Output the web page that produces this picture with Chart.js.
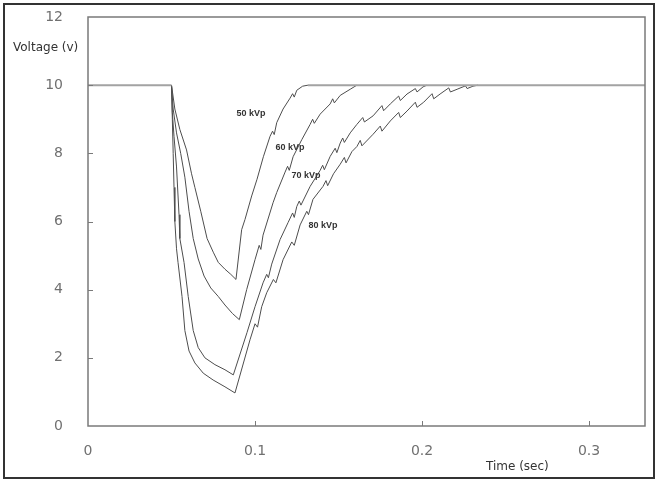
<!DOCTYPE html>
<html>
<head>
<meta charset="utf-8">
<script src="https://cdn.jsdelivr.net/npm/chart.js@4.4.1/dist/chart.umd.min.js"></script>
<style>
html, body { margin: 0; padding: 0; background: #fff; }
#wrap { width: 658px; height: 483px; }
</style>
</head>
<body>
<div id="wrap"><canvas id="c" width="658" height="483"></canvas></div>
<script>
// values (time in s, voltage in V)
const time50 = [0.05,0.052,0.055,0.059,0.062,0.064,0.0675,0.0713,0.075,0.078,0.082,0.0855,
  0.0886,0.092,0.094,0.098,0.1012,0.105,0.109,0.1105,0.1115,0.113,0.1168,0.121,0.1225,0.1235,0.125,0.1285,0.1317];
const volt50 = [10,9.3,8.7,8.1,7.4,7.0,6.3,5.5,5.1,4.8,4.6,4.45,
  4.3,5.76,6.06,6.75,7.24,7.9,8.5,8.65,8.55,8.9,9.3,9.62,9.75,9.65,9.85,9.97,10];

const time60 = [0.05,0.051,0.053,0.0555,0.058,0.0605,0.063,0.066,0.0695,0.0735,0.078,0.082,0.0865,
  0.0906,0.095,0.1,0.1025,0.1035,0.1048,0.1108,0.113,0.118,0.1195,0.1205,0.1228,0.128,0.133,0.1345,0.1355,
  0.139,0.145,0.1465,0.1475,0.151,0.157,0.161];
const volt60 = [10,9.3,8.6,8.0,7.3,6.3,5.5,4.9,4.4,4.05,3.8,3.55,3.3,
  3.12,4.0,4.88,5.3,5.18,5.6,6.55,6.85,7.45,7.62,7.5,7.9,8.4,8.85,9.0,8.88,
  9.15,9.45,9.6,9.48,9.7,9.88,10];

const time70 = [0.05,0.0505,0.0515,0.053,0.0545,0.055,0.0575,0.06,0.063,0.066,0.07,0.076,0.082,
  0.087,0.0952,0.1,0.1048,0.107,0.108,0.11,0.115,0.1198,0.1225,0.1235,0.125,0.1265,0.1275,0.133,0.139,
  0.1405,0.1415,0.145,0.148,0.149,0.151,0.1525,0.1535,0.157,0.161,0.1645,0.1655,0.1707,0.176,0.177,
  0.181,0.186,0.187,0.191,0.196,0.197,0.2006,0.203];
const volt70 = [10,9.2,8.5,7.6,6.2,5.5,4.8,3.8,2.8,2.3,2.0,1.8,1.65,
  1.5,2.74,3.5,4.2,4.45,4.35,4.75,5.47,5.97,6.25,6.12,6.44,6.6,6.48,7.03,7.5,
  7.65,7.52,7.91,8.15,8.02,8.3,8.45,8.32,8.6,8.85,9.05,8.92,9.1,9.4,9.25,
  9.45,9.68,9.55,9.74,9.9,9.8,9.95,10];

const time80 = [0.05,0.0505,0.051,0.0515,0.052,0.053,0.0539,0.0563,0.058,0.0605,0.064,0.069,0.0749,0.082,
  0.088,0.097,0.1,0.1015,0.104,0.107,0.111,0.1125,0.1168,0.122,0.1235,0.127,0.131,0.132,0.1347,0.1407,
  0.1425,0.1435,0.147,0.151,0.1535,0.1545,0.158,0.161,0.163,0.164,0.1707,0.175,0.176,0.181,0.186,
  0.187,0.191,0.196,0.197,0.201,0.206,0.207,0.2108,0.216,0.217,0.221,0.226,0.227,0.2305,0.2335];
const volt80 = [10,9.0,8.0,7.0,6.0,5.2,4.8,3.8,2.8,2.2,1.85,1.55,1.35,1.15,
  0.97,2.53,3.0,2.9,3.5,3.91,4.3,4.2,4.88,5.4,5.3,5.9,6.3,6.2,6.65,7.03,
  7.2,7.05,7.4,7.68,7.88,7.72,8.05,8.2,8.38,8.22,8.56,8.8,8.65,8.95,9.2,
  9.05,9.24,9.5,9.35,9.5,9.75,9.6,9.74,9.92,9.8,9.88,9.98,9.9,9.97,10];

// flat 10 V level before the exposure and after recovery (null = gap)
const baseTime = [0, 0.05, 0.09, 0.1317, 0.3335];
const baseVolt = [10, 10, null, 10, 10];

const seriesNames = ['50 kVp', '60 kVp', '70 kVp', '80 kVp'];
const labelTime = [0.0976, 0.121, 0.1305, 0.1407];
const labelVolt = [9.18, 8.18, 7.35, 5.88];

const xTicks = [0.1, 0.2, 0.3];
const yTicks = [2, 4, 6, 8, 10];

function pts(xs, ys) {
  return xs.map((x, i) => ({ x: x, y: ys[i] }));
}

const curve = (name, xs, ys) => ({
  label: name,
  data: pts(xs, ys),
  borderColor: '#4d4d4d',
  borderWidth: 1,
  pointRadius: 0,
  tension: 0,
});

const decor = {
  id: 'decor',
  afterDraw(chart) {
    const ctx = chart.ctx;
    const a = chart.chartArea;
    const xs = chart.scales.x, ys = chart.scales.y;
    ctx.save();

    // plot frame
    ctx.strokeStyle = '#7a7a7a';
    ctx.lineWidth = 1.5;
    ctx.strokeRect(a.left, a.top, a.right - a.left, a.bottom - a.top);

    // inner tick marks
    ctx.lineWidth = 1;
    ctx.beginPath();
    yTicks.forEach(v => {
      const y = Math.round(ys.getPixelForValue(v)) + 0.5;
      ctx.moveTo(a.left, y); ctx.lineTo(a.left + 5, y);
    });
    xTicks.forEach(t => {
      const x = Math.round(xs.getPixelForValue(t)) + 0.5;
      ctx.moveTo(x, a.bottom); ctx.lineTo(x, a.bottom - 5);
    });
    ctx.stroke();

    // axis titles
    ctx.fillStyle = '#333';
    ctx.font = '12px "DejaVu Sans"';
    ctx.textBaseline = 'middle';
    ctx.textAlign = 'left';
    ctx.fillText('Voltage (v)', 13, 48);
    ctx.fillText('Time (sec)', 486, 467);

    // curve labels
    ctx.font = 'bold 9px "Liberation Sans"';
    ctx.textAlign = 'center';
    seriesNames.forEach((n, i) => {
      ctx.fillText(n, xs.getPixelForValue(labelTime[i]), ys.getPixelForValue(labelVolt[i]));
    });

    // outer box
    ctx.strokeStyle = '#333';
    ctx.lineWidth = 2;
    ctx.strokeRect(4, 4, 650, 474);
    ctx.restore();
  }
};

new Chart(document.getElementById('c'), {
  type: 'line',
  data: {
    datasets: [
      {
        label: 'base',
        data: pts(baseTime, baseVolt),
        borderColor: '#a3a3a3',
        borderWidth: 2,
        pointRadius: 0,
        spanGaps: false,
      },
      curve(seriesNames[0], time50, volt50),
      curve(seriesNames[1], time60, volt60),
      curve(seriesNames[2], time70, volt70),
      curve(seriesNames[3], time80, volt80),
    ]
  },
  options: {
    responsive: false,
    animation: false,
    devicePixelRatio: 1,
    layout: { padding: { top: 17, right: 13, left: 0, bottom: 0 } },
    plugins: { legend: { display: false }, tooltip: { enabled: false } },
    scales: {
      x: {
        type: 'linear',
        min: 0,
        max: 0.3335,
        grid: { display: false },
        border: { display: false },
        ticks: {
          stepSize: 0.1,
          includeBounds: false,
          maxRotation: 0,
          padding: 9,
          color: '#707070',
          font: { family: '"DejaVu Sans"', size: 14 },
          callback: v => (Math.round(v * 10) / 10).toString(),
        },
        afterFit: s => { s.height = 57; },
      },
      y: {
        min: 0,
        max: 12,
        grid: { display: false },
        border: { display: false },
        ticks: {
          stepSize: 2,
          padding: 17,
          color: '#707070',
          font: { family: '"DejaVu Sans"', size: 14 },
        },
        afterFit: s => { s.width = 88; s.paddingTop = 0; s.paddingBottom = 0; },
      },
    },
  },
  plugins: [decor],
});
</script>
</body>
</html>
